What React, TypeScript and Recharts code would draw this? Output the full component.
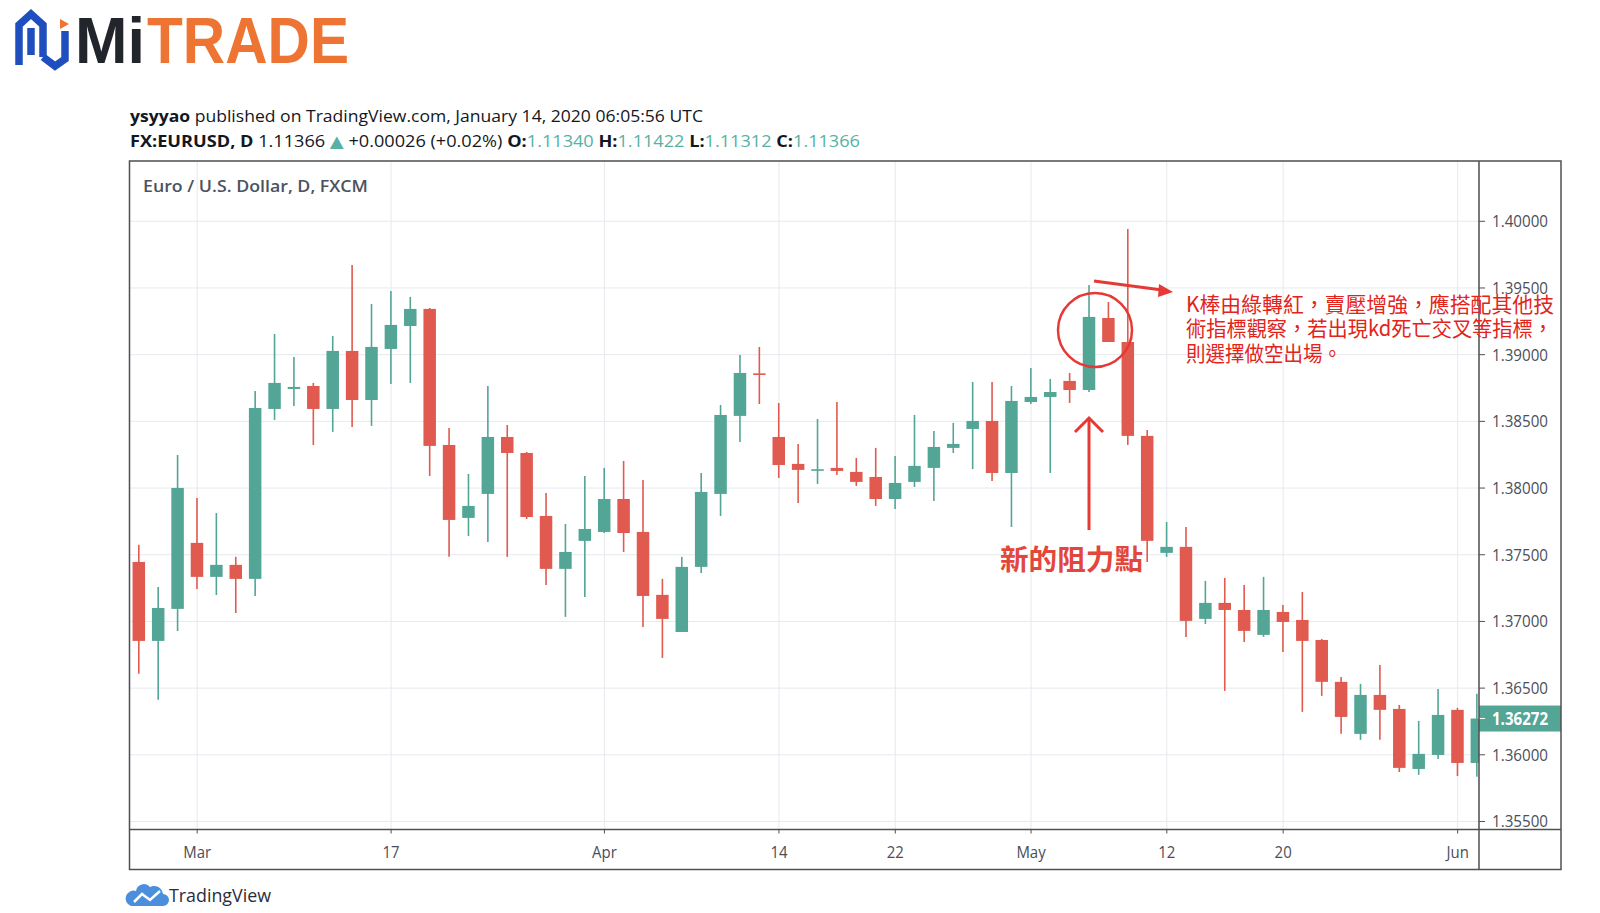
import React from "react";
import {
  ComposedChart,
  Bar,
  XAxis,
  YAxis,
  CartesianGrid,
  ReferenceLine,
} from "recharts";

// daily candles
const opens = [
  1.37446, 1.36854, 1.37094, 1.37589, 1.37334, 1.37424, 1.37319, 1.38593, 1.38743, 1.38765,
  1.38593, 1.39028, 1.3866, 1.39043, 1.39215, 1.39343, 1.38323, 1.37776, 1.37956, 1.38383,
  1.38263, 1.37791, 1.37394, 1.37604, 1.37671, 1.37918, 1.37671, 1.37199, 1.36921, 1.37409,
  1.37956, 1.38541, 1.3886, 1.38383, 1.38181, 1.38131, 1.38151, 1.38121, 1.38083, 1.37918,
  1.38046, 1.38151, 1.38301, 1.38443, 1.38503, 1.38113, 1.38645, 1.38683, 1.38803, 1.38735,
  1.39275, 1.39095, 1.38391, 1.37514, 1.37559, 1.37019, 1.37139, 1.37086, 1.36899, 1.37071,
  1.37011, 1.36861, 1.36547, 1.36157, 1.36449, 1.36344, 1.35894, 1.35999, 1.36337, 1.35939,
];
const highs = [
  1.37574, 1.37259, 1.38248, 1.37926, 1.37813, 1.37484, 1.38728, 1.39155, 1.38983, 1.38788,
  1.3914, 1.39672, 1.3938, 1.39478, 1.39433, 1.3935, 1.38451, 1.38106, 1.38765, 1.38473,
  1.38271, 1.37963, 1.37731, 1.38091, 1.38151, 1.38203, 1.38061, 1.37319, 1.37484, 1.38113,
  1.38623, 1.38998, 1.39058, 1.38638, 1.38331, 1.38518, 1.38645, 1.38226, 1.38301, 1.38241,
  1.38548, 1.38428, 1.38488, 1.38795, 1.38795, 1.38765, 1.389, 1.38818, 1.38863, 1.39523,
  1.39395, 1.39942, 1.38436, 1.37746, 1.37708, 1.37304, 1.37326, 1.37274, 1.37334, 1.37124,
  1.37221, 1.36869, 1.36584, 1.36532, 1.36674, 1.36374, 1.36254, 1.36494, 1.36352, 1.36457,
];
const lows = [
  1.36607, 1.36412, 1.36929, 1.37244, 1.37199, 1.37064, 1.37191, 1.38511, 1.38615, 1.38323,
  1.38421, 1.38458, 1.38466, 1.3878, 1.38788, 1.38091, 1.37484, 1.37641, 1.37596, 1.37484,
  1.37768, 1.37274, 1.37034, 1.37184, 1.37663, 1.37521, 1.36959, 1.36726, 1.36921, 1.37364,
  1.37791, 1.38346, 1.3863, 1.38076, 1.37888, 1.38031, 1.38098, 1.38016, 1.37866, 1.37843,
  1.38008, 1.37903, 1.38263, 1.38143, 1.38053, 1.37708, 1.3863, 1.38113, 1.38638, 1.3872,
  1.39095, 1.38323, 1.37446, 1.37484, 1.36884, 1.36981, 1.36479, 1.36846, 1.36884, 1.36771,
  1.36322, 1.36442, 1.36157, 1.36112, 1.36112, 1.35872, 1.3585, 1.35969, 1.35842, 1.35835,
];
const closes = [
  1.36854, 1.37101, 1.38001, 1.37334, 1.37424, 1.37319, 1.386, 1.38788, 1.38758, 1.38593,
  1.39028, 1.3866, 1.39058, 1.39223, 1.39343, 1.38316, 1.37761, 1.37866, 1.38383, 1.38263,
  1.37783, 1.37394, 1.37521, 1.37693, 1.37918, 1.37663, 1.37191, 1.37019, 1.37409, 1.37971,
  1.38548, 1.38863, 1.3885, 1.38173, 1.38136, 1.38141, 1.38128, 1.38046, 1.37918, 1.38038,
  1.38166, 1.38308, 1.38331, 1.38503, 1.38113, 1.38653, 1.38683, 1.3872, 1.38735, 1.39283,
  1.39095, 1.38391, 1.37604, 1.37559, 1.37004, 1.37139, 1.37086, 1.36929, 1.37086, 1.36996,
  1.36854, 1.36547, 1.36284, 1.36449, 1.36337, 1.35902, 1.36007, 1.36299, 1.35939, 1.36272,
];

// time axis: candle index -> label
const tickIndex = [3, 13, 24, 33, 39, 46, 53, 59, 68];
const tickLabels = ["Mar", "17", "Apr", "14", "22", "May", "12", "20", "Jun"];
const priceTicks = [1.355, 1.36, 1.365, 1.37, 1.375, 1.38, 1.385, 1.39, 1.395, 1.4];
const lastPrice = 1.36272;

const UP = "#53a596";
const DOWN = "#e05a4f";
const AXIS_TEXT = "#4a4e59";
const FONT = "'Open Sans', 'DejaVu Sans', sans-serif";
const CJK = "'Noto Sans CJK TC', 'Noto Sans CJK SC', sans-serif";
const NOTE_RED = "#e3241b";

const rows = opens.map((o, i) => ({
  i,
  open: o,
  high: highs[i],
  low: lows[i],
  close: closes[i],
  range: [lows[i], highs[i]],
}));

function Candle(props: any) {
  const { x, y, width, height, payload } = props;
  if (!payload || !isFinite(x) || !isFinite(y) || !isFinite(height)) return null;
  const cx = x + (width || 0) / 2;
  const yHi = height >= 0 ? y : y + height;
  const h = Math.abs(height);
  const span = payload.high - payload.low;
  const k = span > 0 ? h / span : 0;
  const yOf = (v: number) => yHi + (payload.high - v) * k;
  const color = payload.close >= payload.open ? UP : DOWN;
  const top = yOf(Math.max(payload.open, payload.close));
  const bot = yOf(Math.min(payload.open, payload.close));
  const bw = 12.5;
  return (
    <g>
      <line x1={cx} x2={cx} y1={yHi} y2={yHi + h} stroke={color} strokeWidth={1.6} />
      <rect x={cx - bw / 2} y={top} width={bw} height={Math.max(bot - top, 1.6)} fill={color} />
    </g>
  );
}

function XTick(props: any) {
  const { x, y, payload } = props;
  const idx = tickIndex.indexOf(payload.value);
  const label = idx >= 0 ? tickLabels[idx] : "";
  return (
    <g transform={`translate(${x},${y})`}>
      <text
        transform="scale(0.88,1)"
        textAnchor="middle"
        dy={16}
        fill={AXIS_TEXT}
        fontSize={17}
        fontFamily={FONT}
      >
        {label}
      </text>
    </g>
  );
}

function YTick(props: any) {
  const { x, y, payload } = props;
  return (
    <text
      x={x}
      y={y}
      dy={6}
      fill={AXIS_TEXT}
      fontSize={17}
      fontFamily={FONT}
      textLength={56}
      lengthAdjust="spacingAndGlyphs"
    >
      {Number(payload.value).toFixed(5)}
    </text>
  );
}

function LastPriceLabel(props: any) {
  const vb = props.viewBox || {};
  const x = (vb.x ?? 0) + (vb.width ?? 0);
  const y = vb.y ?? 0;
  return (
    <g>
      <rect x={x} y={y - 13} width={82} height={26} fill={UP} />
      <line x1={x} x2={x + 6} y1={y} y2={y} stroke="#ffffff" strokeWidth={1} />
      <text
        x={x + 13}
        y={y + 6}
        fill="#ffffff"
        fontSize={17}
        fontWeight={700}
        fontFamily={FONT}
        textLength={56}
        lengthAdjust="spacingAndGlyphs"
      >
        {lastPrice.toFixed(5)}
      </text>
    </g>
  );
}

function Overlay() {
  const teal = "#56b2a4";
  return (
    <svg
      width={1600}
      height={913}
      style={{ position: "absolute", left: 0, top: 0, pointerEvents: "none" }}
    >
      {/* MiTRADE logo */}
      <g fill="none" stroke="#1f4fbf" strokeWidth={7.5} strokeLinejoin="miter">
        <path d="M19,65 V25 L31,14 L43,25 V57" />
        <path d="M31,28 V55" />
        <path d="M43,57 L55,66 L65,59 V31" />
      </g>
      <polygon points="60,19 69,24 60,29" fill="#ee7433" />
      <text x={75} y={63} fontSize={64} fontWeight={700} fontFamily="'Liberation Sans', Arial, sans-serif" fill="#22252c" textLength={70} lengthAdjust="spacingAndGlyphs">
        Mi
      </text>
      <text x={147} y={63} fontSize={64} fontWeight={700} fontFamily="'Liberation Sans', Arial, sans-serif" fill="#ee7433" textLength={202} lengthAdjust="spacingAndGlyphs">
        TRADE
      </text>

      {/* publication header */}
      <text x={130} y={122} fontSize={16.5} fontFamily={FONT} fill="#131722" textLength={573} lengthAdjust="spacingAndGlyphs">
        <tspan fontWeight={700}>ysyyao</tspan>
        <tspan> published on TradingView.com, January 14, 2020 06:05:56 UTC</tspan>
      </text>
      <text x={130} y={147} fontSize={16.5} fontFamily={FONT} fill="#131722" textLength={730} lengthAdjust="spacingAndGlyphs">
        <tspan fontWeight={700}>FX:EURUSD, D</tspan>
        <tspan>{"  1.11366 "}</tspan>
        <tspan fill={teal}>▲</tspan>
        <tspan>{" +0.00026 (+0.02%) "}</tspan>
        <tspan fontWeight={700}>O:</tspan>
        <tspan fill={teal}>1.11340</tspan>
        <tspan fontWeight={700}> H:</tspan>
        <tspan fill={teal}>1.11422</tspan>
        <tspan fontWeight={700}> L:</tspan>
        <tspan fill={teal}>1.11312</tspan>
        <tspan fontWeight={700}> C:</tspan>
        <tspan fill={teal}>1.11366</tspan>
      </text>

      {/* pane frame */}
      <rect x={129.5} y={161} width={1431.5} height={708.5} fill="none" stroke="#505050" strokeWidth={1.5} />
      <line x1={1479} x2={1479} y1={161} y2={869.5} stroke="#505050" strokeWidth={1.5} />
      <line x1={129.5} x2={1561} y1={829.5} y2={829.5} stroke="#505050" strokeWidth={1.5} />

      <text x={143} y={192} fontSize={17} fontWeight={600} fontFamily={FONT} fill="#4c525e" textLength={225} lengthAdjust="spacingAndGlyphs">
        Euro / U.S. Dollar, D, FXCM
      </text>

      {/* TradingView footer */}
      <path d="M131,906 H163 A6,6 0 0 0 163,894 A9,9 0 0 0 150,887 A8,8 0 0 0 136,891 A7,7 0 0 0 131,906 Z" fill="#4b8fdc" />
      <polyline points="134,902 142,894 150,900 160,891" fill="none" stroke="#ffffff" strokeWidth={2.5} />
      <text x={169} y={902} fontSize={18} fontFamily={FONT} fill="#2a2e39" textLength={102} lengthAdjust="spacingAndGlyphs">
        TradingView
      </text>

      {/* annotations */}
      <circle cx={1095} cy={330} r={37} fill="none" stroke="#e53935" strokeWidth={2.5} />
      <line x1={1094} y1={281} x2={1162} y2={290} stroke="#e53935" strokeWidth={3} />
      <polygon points="1173,292 1159,284 1158,297" fill="#e53935" />
      <line x1={1089} y1={530} x2={1089} y2={418} stroke="#e53935" strokeWidth={3} />
      <polyline points="1075,432 1089,418 1103,432" fill="none" stroke="#e53935" strokeWidth={3} />
      <text x={1000} y={570} fontSize={28} fontWeight={700} fontFamily={CJK} fill="#e2473b" textLength={143} lengthAdjust="spacingAndGlyphs">
        新的阻力點
      </text>
      <text x={1186} y={312} fontSize={21} fontFamily={CJK} fill={NOTE_RED} textLength={368} lengthAdjust="spacingAndGlyphs">
        K棒由綠轉紅，賣壓增強，應搭配其他技
      </text>
      <text x={1186} y={336} fontSize={21} fontFamily={CJK} fill={NOTE_RED} textLength={367} lengthAdjust="spacingAndGlyphs">
        術指標觀察，若出現kd死亡交叉等指標，
      </text>
      <text x={1186} y={361} fontSize={21} fontFamily={CJK} fill={NOTE_RED} textLength={156} lengthAdjust="spacingAndGlyphs">
        則選擇做空出場。
      </text>
    </svg>
  );
}

export default function App() {
  return (
    <div
      style={{
        position: "absolute",
        left: 0,
        top: 0,
        width: 1600,
        height: 913,
        overflow: "hidden",
        background: "#ffffff",
      }}
    >
      <ComposedChart
        width={1600}
        height={913}
        data={rows}
        margin={{ top: 161, right: 39, bottom: 43.5, left: 129.3 }}
      >
        <CartesianGrid stroke="#e6e9ef" strokeWidth={1} />
        <XAxis
          dataKey="i"
          type="number"
          domain={[-0.5, 69.1]}
          allowDataOverflow
          ticks={tickIndex}
          interval={0}
          height={40}
          axisLine={false}
          tickLine={{ stroke: "#505050" }}
          tickSize={4}
          tickMargin={8}
          tick={(p: any) => <XTick {...p} />}
        />
        <YAxis
          orientation="right"
          width={82}
          domain={[1.3544, 1.40452]}
          allowDataOverflow
          ticks={priceTicks}
          interval={0}
          axisLine={false}
          tickLine={{ stroke: "#505050" }}
          tickSize={6}
          tickMargin={7}
          tick={(p: any) => <YTick {...p} />}
        />
        <Bar dataKey="range" shape={(p: any) => <Candle {...p} />} barSize={13} isAnimationActive={false} />
        <ReferenceLine y={lastPrice} stroke="none" label={(p: any) => <LastPriceLabel {...p} />} />
      </ComposedChart>
      <Overlay />
    </div>
  );
}
